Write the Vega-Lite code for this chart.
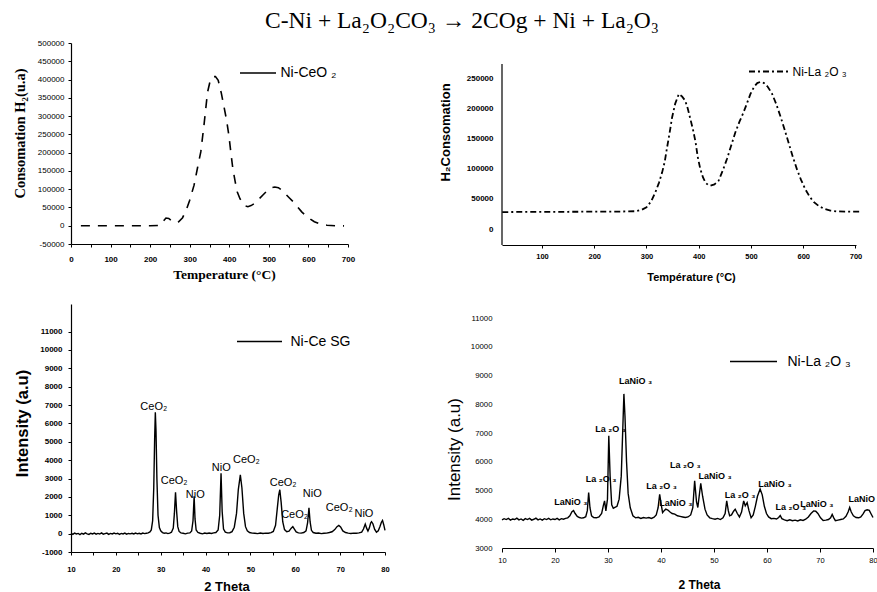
{
 "$schema": "https://vega.github.io/schema/vega-lite/v6.json",
 "padding": {"left": 11, "top": 8, "right": 0, "bottom": 0},
 "autosize": {"type": "pad"},
 "background": "white",
 "title": {"text": "C-Ni + La₂O₂CO₃ → 2COg + Ni + La₂O₃", "font": "Liberation Serif", "fontSize": 23.5, "fontWeight": "normal", "color": "#000", "anchor": "start", "frame": "group", "dx": 194, "offset": -12, "baseline": "alphabetic"},
 "config": {
  "view": {"stroke": null},
  "axis": {"grid": false, "domainColor": "#000", "tickColor": "#000", "labelColor": "#000", "titleColor": "#000", "labelFont": "Liberation Sans", "titleFont": "Liberation Sans", "domainWidth": 1.2, "tickWidth": 1, "labelOverlap": false, "labelFlush": false, "labelBound": false},
  "legend": {"orient": "none", "padding": 0, "symbolType": "stroke", "labelFont": "Liberation Sans", "labelColor": "#000", "symbolStrokeColor": "#000", "symbolStrokeWidth": 1.5}
 },
 "datasets": {
  "p1": [{"t":25,"v":0},{"t":50,"v":0},{"t":100,"v":0},{"t":150,"v":0},{"t":200,"v":0},{"t":225,"v":1000},{"t":233,"v":12000},{"t":240,"v":21000},{"t":247,"v":20000},{"t":255,"v":13000},{"t":263,"v":8000},{"t":272,"v":11000},{"t":282,"v":22000},{"t":292,"v":45000},{"t":300,"v":70000},{"t":311,"v":111000},{"t":320,"v":160000},{"t":328,"v":202000},{"t":336,"v":275000},{"t":345,"v":365000},{"t":352,"v":398000},{"t":358,"v":408000},{"t":365,"v":408000},{"t":372,"v":398000},{"t":380,"v":362000},{"t":386,"v":329000},{"t":393,"v":290000},{"t":399,"v":247000},{"t":404,"v":200000},{"t":409,"v":156000},{"t":415,"v":120000},{"t":420,"v":93000},{"t":427,"v":74000},{"t":434,"v":61000},{"t":441,"v":54000},{"t":447,"v":52000},{"t":455,"v":55000},{"t":464,"v":61000},{"t":475,"v":73000},{"t":485,"v":84000},{"t":495,"v":95000},{"t":507,"v":104000},{"t":515,"v":106000},{"t":524,"v":104000},{"t":533,"v":97000},{"t":541,"v":88000},{"t":552,"v":76000},{"t":562,"v":65000},{"t":572,"v":52000},{"t":583,"v":38000},{"t":594,"v":27000},{"t":605,"v":18000},{"t":615,"v":11000},{"t":626,"v":6000},{"t":636,"v":3500},{"t":647,"v":1500},{"t":668,"v":0},{"t":690,"v":-500}],
  "p2": [{"t":24,"v":28000},{"t":50,"v":28300},{"t":100,"v":28500},{"t":150,"v":28600},{"t":200,"v":28800},{"t":250,"v":29000},{"t":280,"v":29500},{"t":291,"v":32000},{"t":300,"v":36000},{"t":309,"v":46000},{"t":317,"v":61000},{"t":324,"v":77000},{"t":330,"v":94000},{"t":335,"v":112000},{"t":339,"v":133000},{"t":344,"v":158000},{"t":349,"v":185000},{"t":355,"v":208000},{"t":362,"v":224000},{"t":368,"v":220000},{"t":374,"v":213000},{"t":379,"v":200000},{"t":384,"v":182500},{"t":389,"v":165000},{"t":394,"v":144000},{"t":398,"v":120000},{"t":403,"v":99500},{"t":408,"v":86000},{"t":413,"v":77000},{"t":418,"v":73000},{"t":422,"v":71900},{"t":430,"v":74000},{"t":438,"v":80000},{"t":446,"v":97000},{"t":454,"v":116000},{"t":462,"v":138000},{"t":470,"v":160000},{"t":478,"v":178000},{"t":486,"v":194000},{"t":493,"v":210000},{"t":499,"v":224000},{"t":506,"v":236000},{"t":512,"v":242000},{"t":518,"v":244000},{"t":525,"v":242000},{"t":532,"v":236000},{"t":540,"v":225000},{"t":548,"v":208000},{"t":556,"v":188000},{"t":564,"v":166000},{"t":572,"v":143000},{"t":580,"v":120000},{"t":588,"v":99000},{"t":596,"v":81000},{"t":604,"v":66000},{"t":612,"v":54000},{"t":620,"v":45000},{"t":630,"v":38000},{"t":640,"v":33500},{"t":652,"v":30500},{"t":665,"v":29200},{"t":680,"v":28800},{"t":695,"v":28700},{"t":708,"v":28700}],
  "p3": [{"t":10,"v":20},{"t":10.4,"v":-40},{"t":10.8,"v":30},{"t":11.2,"v":-20},{"t":11.6,"v":10},{"t":12,"v":-50},{"t":12.4,"v":20},{"t":12.8,"v":-30},{"t":13.2,"v":40},{"t":13.6,"v":-10},{"t":14,"v":-40},{"t":14.4,"v":20},{"t":14.8,"v":-20},{"t":15.2,"v":30},{"t":15.6,"v":-30},{"t":16,"v":10},{"t":16.4,"v":-20},{"t":16.8,"v":40},{"t":17.2,"v":-30},{"t":17.6,"v":0},{"t":18,"v":30},{"t":18.4,"v":-40},{"t":18.8,"v":10},{"t":19.2,"v":-20},{"t":19.6,"v":30},{"t":20,"v":-10},{"t":20.4,"v":20},{"t":20.8,"v":-40},{"t":21.2,"v":10},{"t":21.6,"v":-20},{"t":22,"v":30},{"t":22.4,"v":-30},{"t":22.8,"v":10},{"t":23.2,"v":-10},{"t":23.6,"v":20},{"t":24,"v":-20},{"t":24.4,"v":30},{"t":24.8,"v":-10},{"t":25.2,"v":20},{"t":25.6,"v":-20},{"t":26,"v":30},{"t":26.4,"v":0},{"t":26.8,"v":20},{"t":27.2,"v":40},{"t":27.6,"v":90},{"t":27.9,"v":200},{"t":28.2,"v":700},{"t":28.45,"v":2500},{"t":28.65,"v":5200},{"t":28.8,"v":6600},{"t":28.95,"v":5600},{"t":29.15,"v":3000},{"t":29.4,"v":1000},{"t":29.7,"v":330},{"t":30,"v":150},{"t":30.4,"v":60},{"t":30.8,"v":20},{"t":31.2,"v":40},{"t":31.6,"v":0},{"t":32,"v":30},{"t":32.4,"v":80},{"t":32.8,"v":300},{"t":33.05,"v":1100},{"t":33.3,"v":2250},{"t":33.55,"v":1200},{"t":33.8,"v":380},{"t":34.1,"v":120},{"t":34.5,"v":40},{"t":35,"v":20},{"t":35.5,"v":-10},{"t":36,"v":30},{"t":36.5,"v":40},{"t":36.9,"v":150},{"t":37.2,"v":700},{"t":37.45,"v":2030},{"t":37.65,"v":800},{"t":37.9,"v":200},{"t":38.3,"v":60},{"t":38.8,"v":20},{"t":39.3,"v":-10},{"t":39.8,"v":30},{"t":40.3,"v":10},{"t":40.8,"v":30},{"t":41.3,"v":10},{"t":41.8,"v":40},{"t":42.3,"v":60},{"t":42.8,"v":200},{"t":43.15,"v":1000},{"t":43.45,"v":3290},{"t":43.7,"v":1200},{"t":44,"v":250},{"t":44.4,"v":80},{"t":44.9,"v":40},{"t":45.4,"v":50},{"t":45.9,"v":110},{"t":46.4,"v":350},{"t":46.9,"v":1100},{"t":47.3,"v":2400},{"t":47.75,"v":3200},{"t":48.1,"v":2500},{"t":48.5,"v":1100},{"t":48.9,"v":380},{"t":49.3,"v":150},{"t":49.8,"v":60},{"t":50.4,"v":30},{"t":51,"v":20},{"t":51.6,"v":0},{"t":52.2,"v":30},{"t":52.8,"v":10},{"t":53.4,"v":30},{"t":54,"v":20},{"t":54.6,"v":50},{"t":55.1,"v":120},{"t":55.6,"v":450},{"t":56,"v":1400},{"t":56.3,"v":2100},{"t":56.55,"v":2390},{"t":56.85,"v":1700},{"t":57.2,"v":650},{"t":57.6,"v":220},{"t":58.1,"v":100},{"t":58.6,"v":130},{"t":59.1,"v":300},{"t":59.45,"v":380},{"t":59.8,"v":250},{"t":60.2,"v":90},{"t":60.7,"v":40},{"t":61.3,"v":30},{"t":61.9,"v":60},{"t":62.4,"v":150},{"t":62.75,"v":600},{"t":63.05,"v":1400},{"t":63.3,"v":650},{"t":63.6,"v":180},{"t":64,"v":60},{"t":64.6,"v":20},{"t":65.2,"v":30},{"t":65.8,"v":0},{"t":66.4,"v":20},{"t":67,"v":30},{"t":67.6,"v":60},{"t":68.2,"v":100},{"t":68.8,"v":220},{"t":69.3,"v":380},{"t":69.7,"v":450},{"t":70.1,"v":360},{"t":70.6,"v":150},{"t":71.2,"v":60},{"t":71.8,"v":30},{"t":72.4,"v":10},{"t":73,"v":30},{"t":73.6,"v":20},{"t":74.2,"v":40},{"t":74.8,"v":80},{"t":75.2,"v":250},{"t":75.6,"v":520},{"t":75.9,"v":300},{"t":76.2,"v":140},{"t":76.5,"v":300},{"t":76.8,"v":580},{"t":77,"v":650},{"t":77.3,"v":540},{"t":77.7,"v":230},{"t":78.1,"v":80},{"t":78.5,"v":150},{"t":78.9,"v":400},{"t":79.2,"v":620},{"t":79.45,"v":720},{"t":79.7,"v":500},{"t":80,"v":180}],
  "p4": [{"t":10,"v":3980},{"t":10.4,"v":4020},{"t":10.8,"v":3990},{"t":11.2,"v":4030},{"t":11.6,"v":3970},{"t":12,"v":4010},{"t":12.4,"v":3990},{"t":12.8,"v":4040},{"t":13.2,"v":3980},{"t":13.6,"v":4010},{"t":14,"v":3960},{"t":14.4,"v":4020},{"t":14.8,"v":3990},{"t":15.2,"v":4030},{"t":15.6,"v":3970},{"t":16,"v":4000},{"t":16.4,"v":4040},{"t":16.8,"v":3980},{"t":17.2,"v":4010},{"t":17.6,"v":3970},{"t":18,"v":4020},{"t":18.4,"v":3990},{"t":18.8,"v":4030},{"t":19.2,"v":3980},{"t":19.6,"v":4010},{"t":20,"v":3990},{"t":20.4,"v":4030},{"t":20.8,"v":3980},{"t":21.2,"v":4020},{"t":21.6,"v":4000},{"t":22,"v":4030},{"t":22.4,"v":4050},{"t":22.8,"v":4120},{"t":23.2,"v":4260},{"t":23.5,"v":4300},{"t":23.8,"v":4200},{"t":24.2,"v":4100},{"t":24.6,"v":4060},{"t":25,"v":4040},{"t":25.4,"v":4050},{"t":25.8,"v":4090},{"t":26.1,"v":4300},{"t":26.35,"v":4930},{"t":26.6,"v":4400},{"t":26.9,"v":4120},{"t":27.3,"v":4060},{"t":27.8,"v":4050},{"t":28.3,"v":4080},{"t":28.8,"v":4200},{"t":29.15,"v":4500},{"t":29.35,"v":4640},{"t":29.6,"v":4290},{"t":29.9,"v":4700},{"t":30.15,"v":6900},{"t":30.4,"v":5500},{"t":30.7,"v":4500},{"t":31,"v":4380},{"t":31.3,"v":4410},{"t":31.7,"v":4450},{"t":32.1,"v":4700},{"t":32.5,"v":5500},{"t":32.8,"v":7200},{"t":33,"v":8360},{"t":33.2,"v":7600},{"t":33.5,"v":6000},{"t":33.8,"v":4900},{"t":34.2,"v":4400},{"t":34.7,"v":4120},{"t":35.2,"v":4050},{"t":35.7,"v":4070},{"t":36.2,"v":4030},{"t":36.7,"v":4060},{"t":37.2,"v":4040},{"t":37.7,"v":4060},{"t":38.2,"v":4030},{"t":38.7,"v":4070},{"t":39.1,"v":4150},{"t":39.45,"v":4400},{"t":39.75,"v":4870},{"t":40.05,"v":4500},{"t":40.3,"v":4230},{"t":40.6,"v":4300},{"t":40.9,"v":4350},{"t":41.3,"v":4320},{"t":41.7,"v":4250},{"t":42.1,"v":4200},{"t":42.6,"v":4180},{"t":43.1,"v":4120},{"t":43.6,"v":4100},{"t":44.1,"v":4080},{"t":44.6,"v":4060},{"t":45.1,"v":4080},{"t":45.6,"v":4150},{"t":46,"v":4400},{"t":46.35,"v":5340},{"t":46.7,"v":4600},{"t":46.95,"v":4410},{"t":47.2,"v":4800},{"t":47.5,"v":5250},{"t":47.85,"v":4800},{"t":48.3,"v":4350},{"t":48.7,"v":4150},{"t":49.2,"v":4050},{"t":49.7,"v":4020},{"t":50.2,"v":4000},{"t":50.7,"v":4030},{"t":51.2,"v":3990},{"t":51.7,"v":4050},{"t":52.1,"v":4200},{"t":52.4,"v":4640},{"t":52.7,"v":4300},{"t":52.95,"v":4120},{"t":53.3,"v":4150},{"t":53.7,"v":4280},{"t":54,"v":4350},{"t":54.4,"v":4200},{"t":54.8,"v":4080},{"t":55.2,"v":4250},{"t":55.6,"v":4640},{"t":55.9,"v":4470},{"t":56.25,"v":4580},{"t":56.6,"v":4300},{"t":57,"v":4050},{"t":57.4,"v":4150},{"t":57.8,"v":4450},{"t":58.2,"v":4800},{"t":58.7,"v":5050},{"t":59.1,"v":4850},{"t":59.5,"v":4450},{"t":59.9,"v":4200},{"t":60.3,"v":4080},{"t":60.8,"v":4020},{"t":61.3,"v":4030},{"t":61.8,"v":4010},{"t":62.2,"v":4060},{"t":62.5,"v":4130},{"t":62.8,"v":4020},{"t":63.3,"v":3980},{"t":63.8,"v":3950},{"t":64.3,"v":3980},{"t":64.8,"v":3950},{"t":65.3,"v":3970},{"t":65.8,"v":3940},{"t":66.3,"v":3980},{"t":66.8,"v":3960},{"t":67.3,"v":4000},{"t":67.8,"v":4080},{"t":68.3,"v":4200},{"t":68.8,"v":4290},{"t":69.2,"v":4280},{"t":69.6,"v":4200},{"t":70.1,"v":4050},{"t":70.6,"v":3960},{"t":71.1,"v":3970},{"t":71.6,"v":3990},{"t":72,"v":4050},{"t":72.3,"v":4170},{"t":72.6,"v":4050},{"t":72.9,"v":3950},{"t":73.4,"v":3970},{"t":73.9,"v":3990},{"t":74.4,"v":4010},{"t":74.9,"v":4100},{"t":75.3,"v":4250},{"t":75.6,"v":4410},{"t":75.9,"v":4250},{"t":76.3,"v":4120},{"t":76.8,"v":4060},{"t":77.3,"v":4050},{"t":77.7,"v":4080},{"t":78.1,"v":4180},{"t":78.5,"v":4300},{"t":78.9,"v":4330},{"t":79.3,"v":4310},{"t":79.6,"v":4200},{"t":80,"v":4060}],
  "a3": [{"t":28.45,"v":6880,"label":"CeO₂"},{"t":33.0,"v":2840,"label":"CeO₂"},{"t":37.7,"v":2120,"label":"NiO"},{"t":43.5,"v":3570,"label":"NiO"},{"t":49.1,"v":4020,"label":"CeO₂"},{"t":57.3,"v":2770,"label":"CeO₂"},{"t":59.85,"v":1030,"label":"CeO₂"},{"t":63.8,"v":2170,"label":"NiO"},{"t":69.8,"v":1410,"label":"CeO₂"},{"t":75.3,"v":1090,"label":"NiO"}],
  "a4": [{"t":23.0,"v":4600,"label":"LaNiO ₃"},{"t":28.7,"v":5400,"label":"La ₂O ₃"},{"t":30.5,"v":7140,"label":"La ₂O ₃"},{"t":35.2,"v":8800,"label":"LaNiO ₃"},{"t":40.1,"v":5160,"label":"La ₂O ₃"},{"t":42.8,"v":4580,"label":"LaNiO ₃"},{"t":44.6,"v":5880,"label":"La ₂O ₃"},{"t":50.2,"v":5490,"label":"LaNiO ₃"},{"t":54.9,"v":4840,"label":"La ₂O ₃"},{"t":61.5,"v":5220,"label":"LaNiO ₃"},{"t":64.5,"v":4410,"label":"La ₂O ₃"},{"t":69.4,"v":4520,"label":"LaNiO ₃"},{"t":78.5,"v":4700,"label":"LaNiO ₃"}]
 },
 "bounds": "flush",
 "columns": 2,
 "spacing": {"row": 59, "column": 117},
 "resolve": {"scale": {"color": "independent"}, "legend": {"color": "independent"}},
 "concat": [
  {
   "width": 277, "height": 201,
   "data": {"name": "p1"},
   "mark": {"type": "line", "strokeDash": [9, 8], "strokeWidth": 1.6},
   "encoding": {
    "x": {"field": "t", "type": "quantitative", "scale": {"domain": [0, 700], "nice": false, "zero": false},
     "axis": {"values": [0,50,100,150,200,250,300,350,400,450,500,550,600,650,700], "labelOverlap": false, "labelExpr": "datum.value % 100 == 0 ? toString(datum.value) : ''", "labelFontSize": 8, "labelFontWeight": "bold", "tickSize": 3, "labelPadding": 8, "title": "Temperature (°C)", "titleFont": "Liberation Serif", "titleFontSize": 13.5, "titleFontWeight": "bold", "titleX": 153, "titleY": 30, "titleAlign": "center", "titleBaseline": "middle"}},
    "y": {"field": "v", "type": "quantitative", "scale": {"domain": [-50000, 500000], "nice": false, "zero": false},
     "axis": {"values": [-50000,0,50000,100000,150000,200000,250000,300000,350000,400000,450000,500000], "labelOverlap": false, "labelExpr": "toString(datum.value)", "labelFontSize": 8, "tickSize": 3, "labelPadding": 4, "title": "Consomation  H₂(u.a)", "titleFont": "Liberation Serif", "titleFontSize": 14.5, "titleFontWeight": "bold", "titleX": -51, "titleY": 90, "titleAlign": "center", "titleBaseline": "middle"}},
    "color": {"datum": "Ni-CeO ₂", "scale": {"range": ["#000000"]},
     "legend": {"title": null, "legendX": 168, "legendY": 11, "symbolSize": 1296, "symbolDash": [1, 0], "labelFontSize": 14, "labelOffset": 3.5}}
   }
  },
  {
   "width": 354, "height": 202,
   "layer": [
    {
     "data": {"name": "p2"},
     "mark": {"type": "line", "strokeDash": [6, 3, 2, 3], "strokeWidth": 1.8, "clip": false},
     "encoding": {
      "x": {"field": "t", "type": "quantitative", "scale": {"domain": [23.5, 701], "nice": false, "zero": false},
       "axis": {"values": [100,200,300,400,500,600,700], "labelOverlap": false, "labelExpr": "toString(datum.value)", "labelFontSize": 7.5, "labelFontWeight": "bold", "tickSize": 3, "labelPadding": 4, "title": "Température (°C)", "titleFontSize": 11, "titleFontWeight": "bold", "titleX": 189, "titleY": 32, "titleAlign": "center", "titleBaseline": "middle"}},
      "y": {"field": "v", "type": "quantitative", "scale": {"domain": [-26500, 308500], "nice": false, "zero": false},
       "axis": {"values": [0,50000,100000,150000,200000,250000], "labelOverlap": false, "domain": false, "labelExpr": "toString(datum.value)", "labelFontSize": 8, "labelFontWeight": "bold", "tickSize": 0, "labelPadding": 9, "title": "H₂Consomation", "titleFontSize": 13, "titleFontWeight": "bold", "titleX": -57, "titleY": 89, "titleAlign": "center", "titleBaseline": "middle"}},
      "color": {"datum": "Ni-La ₂O ₃", "scale": {"range": ["#000000"]},
       "legend": {"title": null, "legendX": 246, "legendY": 7, "symbolSize": 1681, "symbolDash": [6, 3, 2, 3], "symbolStrokeWidth": 1.8, "labelFontSize": 12, "labelOffset": 1.5}}
     }
    },
    {
     "data": {"values": [{}]},
     "mark": {"type": "rule", "color": "#000", "strokeWidth": 1.2},
     "encoding": {
      "x": {"datum": 23.5, "type": "quantitative"},
      "y": {"datum": -26500, "type": "quantitative"},
      "y2": {"datum": 273700}
     }
    }
   ]
  },
  {
   "width": 314, "height": 248,
   "encoding": {
    "x": {"field": "t", "type": "quantitative", "scale": {"domain": [10, 80], "nice": false, "zero": false},
     "axis": {"values": [10,15,20,25,30,35,40,45,50,55,60,65,70,75,80], "labelOverlap": false, "labelExpr": "datum.value % 10 == 0 ? toString(datum.value) : ''", "labelFontSize": 7.5, "labelFontWeight": "bold", "tickSize": 3, "labelPadding": 10, "title": "2 Theta", "titleFontSize": 13, "titleFontWeight": "bold", "titleX": 155.5, "titleY": 34, "titleAlign": "center", "titleBaseline": "middle"}},
    "y": {"field": "v", "type": "quantitative", "scale": {"domain": [-1000, 12500], "nice": false, "zero": false},
     "axis": {"values": [-1000,0,1000,2000,3000,4000,5000,6000,7000,8000,9000,10000,11000], "labelOverlap": false, "labelExpr": "toString(datum.value)", "labelFontSize": 8, "labelFontWeight": "bold", "tickSize": 3, "labelPadding": 6, "title": "Intensity (a.u)", "titleFontSize": 16.5, "titleFontWeight": "bold", "titleX": -49, "titleY": 119, "titleAlign": "center", "titleBaseline": "middle"}}
   },
   "layer": [
    {
     "data": {"name": "p3"},
     "mark": {"type": "line", "strokeWidth": 1.4},
     "encoding": {
      "color": {"datum": "Ni-Ce SG", "scale": {"range": ["#000000"]},
       "legend": {"title": null, "legendX": 165, "legendY": 14, "symbolSize": 2025, "symbolDash": [1, 0], "labelFontSize": 14, "labelOffset": 7.5}}
     }
    },
    {
     "data": {"name": "a3"},
     "mark": {"type": "text", "font": "Liberation Sans", "fontSize": 11, "color": "#000", "align": "center", "baseline": "middle"},
     "encoding": {
      "text": {"field": "label"}
     }
    }
   ]
  },
  {
   "width": 371, "height": 244,
   "encoding": {
    "x": {"field": "t", "type": "quantitative", "scale": {"domain": [10, 80], "nice": false, "zero": false},
     "axis": {"values": [10,20,30,40,50,60,70,80], "labelOverlap": false, "labelExpr": "toString(datum.value)", "labelFontSize": 7.5, "tickSize": 4, "labelPadding": 4, "title": "2 Theta", "titleFontSize": 12, "titleFontWeight": "bold", "titleX": 197, "titleY": 36, "titleAlign": "center", "titleBaseline": "middle"}},
    "y": {"field": "v", "type": "quantitative", "scale": {"domain": [3000, 11487], "nice": false, "zero": false},
     "axis": {"values": [3000,4000,5000,6000,7000,8000,9000,10000,11000], "labelOverlap": false, "domain": false, "labelExpr": "toString(datum.value)", "labelFontSize": 7.8, "tickSize": 0, "labelPadding": 10, "title": "Intensity (a.u)", "titleFontSize": 17, "titleFontWeight": "normal", "titleX": -48, "titleY": 145, "titleAlign": "center", "titleBaseline": "middle"}}
   },
   "layer": [
    {
     "data": {"name": "p4"},
     "mark": {"type": "line", "strokeWidth": 1.4},
     "encoding": {
      "color": {"datum": "Ni-La ₂O ₃", "scale": {"range": ["#000000"]},
       "legend": {"title": null, "legendX": 227, "legendY": 33, "symbolSize": 2209, "symbolDash": [1, 0], "labelFontSize": 14, "labelOffset": 9.5}}
     }
    },
    {
     "data": {"name": "a4"},
     "mark": {"type": "text", "font": "Liberation Sans", "fontSize": 9, "fontWeight": "bold", "color": "#000", "align": "center", "baseline": "middle"},
     "encoding": {
      "text": {"field": "label"}
     }
    },
    {
     "data": {"values": [{}]},
     "mark": {"type": "rule", "color": "#000", "strokeWidth": 1.2},
     "encoding": {
      "x": {"datum": 10, "type": "quantitative"},
      "y": {"datum": 3000, "type": "quantitative"},
      "y2": {"datum": 11000}
     }
    }
   ]
  }
 ]
}
